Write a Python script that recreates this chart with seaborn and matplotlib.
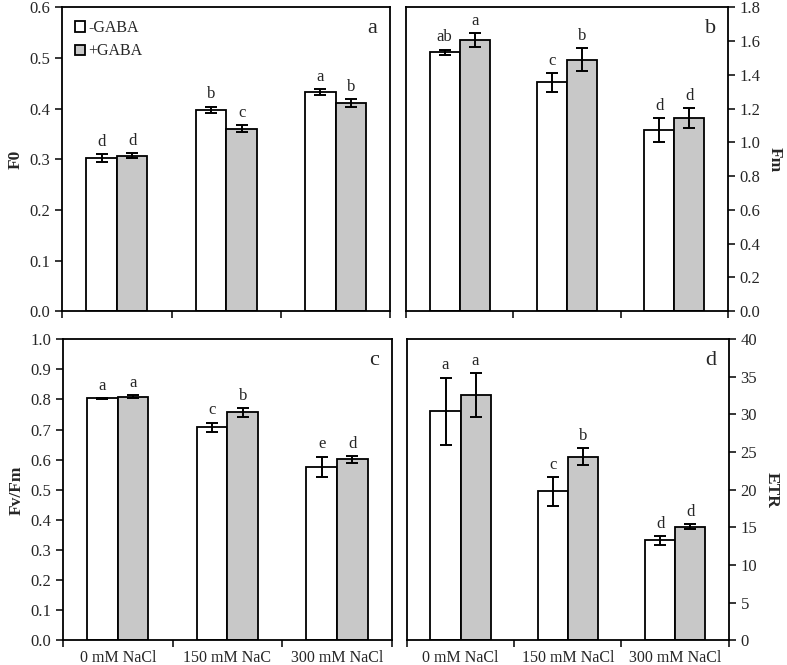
import matplotlib
matplotlib.use("Agg")
import matplotlib.pyplot as plt
import seaborn as sns
import numpy as np
import pandas as pd

sns.set_theme(style="ticks")
plt.rcParams["font.family"] = ["Liberation Serif", "DejaVu Serif"]

# data
salt = ["0 mM NaCl", "150 mM NaCl", "300 mM NaCl"]
salt_labels_c = ["0 mM NaCl", "150 mM NaC", "300 mM NaCl"]
treat = ["-GABA", "+GABA"]

f0_minus = [0.303, 0.398, 0.433]
f0_plus = [0.307, 0.360, 0.411]
f0_err_minus = [0.008, 0.006, 0.006]
f0_err_plus = [0.005, 0.007, 0.007]
f0_let_minus = ["d", "b", "a"]
f0_let_plus = ["d", "c", "b"]

fm_minus = [1.535, 1.355, 1.075]
fm_plus = [1.605, 1.490, 1.145]
fm_err_minus = [0.015, 0.055, 0.070]
fm_err_plus = [0.040, 0.070, 0.060]
fm_let_minus = ["ab", "c", "d"]
fm_let_plus = ["a", "b", "d"]

fvfm_minus = [0.803, 0.707, 0.577]
fvfm_plus = [0.809, 0.757, 0.601]
fvfm_err_minus = [0.002, 0.016, 0.033]
fvfm_err_plus = [0.004, 0.014, 0.011]
fvfm_let_minus = ["a", "c", "e"]
fvfm_let_plus = ["a", "b", "d"]

etr_minus = [30.4, 19.8, 13.3]
etr_plus = [32.6, 24.4, 15.1]
etr_err_minus = [4.5, 1.9, 0.6]
etr_err_plus = [2.9, 1.1, 0.3]
etr_let_minus = ["a", "c", "d"]
etr_let_plus = ["a", "b", "d"]

panels = [
    ("F0", f0_minus, f0_plus, f0_err_minus, f0_err_plus, f0_let_minus, f0_let_plus,
     0.6, 0.1, "{:.1f}", "a", "left", None),
    ("Fm", fm_minus, fm_plus, fm_err_minus, fm_err_plus, fm_let_minus, fm_let_plus,
     1.8, 0.2, "{:.1f}", "b", "right", None),
    ("Fv/Fm", fvfm_minus, fvfm_plus, fvfm_err_minus, fvfm_err_plus, fvfm_let_minus, fvfm_let_plus,
     1.0, 0.1, "{:.1f}", "c", "left", salt_labels_c),
    ("ETR", etr_minus, etr_plus, etr_err_minus, etr_err_plus, etr_let_minus, etr_let_plus,
     40, 5, "{:.0f}", "d", "right", salt),
]

positions = [
    [0.079, 0.532, 0.417, 0.457],
    [0.516, 0.532, 0.409, 0.457],
    [0.080, 0.037, 0.418, 0.453],
    [0.517, 0.037, 0.409, 0.453],
]

fig = plt.figure(figsize=(7.87, 6.65), dpi=100)

for pos, (ylab, vm, vp, em, ep, lm, lp, ymax, step, fmt, tag, side, xl) in zip(positions, panels):
    ax = fig.add_axes(pos)
    df = pd.DataFrame({
        "salt": salt * 2,
        "treat": [treat[0]] * 3 + [treat[1]] * 3,
        "value": vm + vp,
    })
    sns.barplot(data=df, x="salt", y="value", hue="treat", hue_order=treat,
                palette=["white", "#c8c8c8"], edgecolor="black", linewidth=1.3,
                width=0.56, errorbar=None, ax=ax, legend=(tag == "a"))

    for cont, errs, lets in zip(ax.containers, [em, ep], [lm, lp]):
        for bar, e, t in zip(cont, errs, lets):
            x = bar.get_x() + bar.get_width() / 2
            h = bar.get_height()
            ax.errorbar(x, h, yerr=e, color="black", capsize=4, elinewidth=1.4,
                        capthick=1.4)
            ax.annotate(t, (x, h + e), xytext=(0, 3), textcoords="offset points",
                        ha="center", va="bottom", fontsize=12)

    ax.set_xlim(-0.5, 2.5)
    ax.set_ylim(0, ymax)
    yt = np.arange(0, ymax + step / 2, step)
    ax.set_yticks(yt)
    ax.set_yticklabels([fmt.format(v) for v in yt], fontsize=12)
    ax.set_xticks([-0.5, 0.5, 1.5, 2.5])
    ax.set_xticklabels([])
    ax.set_xticks([0, 1, 2], minor=True)
    if xl is not None:
        ax.set_xticklabels(xl, minor=True, fontsize=11.5)
    else:
        ax.set_xticklabels(["", "", ""], minor=True)
    ax.tick_params(axis="x", which="minor", length=0, pad=7)
    ax.tick_params(axis="x", which="major", length=5, width=1.3, direction="out")
    ax.tick_params(axis="y", length=5, width=1.3, direction="out")
    ax.set_xlabel("")
    ax.set_ylabel(ylab, fontsize=12.5, fontweight="bold")
    if side == "right":
        ax.yaxis.tick_right()
        ax.yaxis.set_label_position("right")
        ax.set_ylabel(ylab, fontsize=12.5, fontweight="bold", rotation=270, labelpad=16)
    for sp in ax.spines.values():
        sp.set_visible(True)
        sp.set_linewidth(1.3)
        sp.set_color("black")

    ax.text(0.945, 0.93, tag, transform=ax.transAxes, fontsize=16,
            ha="center", va="center")

    if tag == "a":
        leg = ax.legend(loc="upper left", bbox_to_anchor=(0.0, 1.0), frameon=False,
                        fontsize=11.5, handlelength=0.6, handleheight=0.6,
                        handletextpad=0.25, labelspacing=0.45, borderaxespad=0.4)

fig.savefig("out.png", dpi=100)
